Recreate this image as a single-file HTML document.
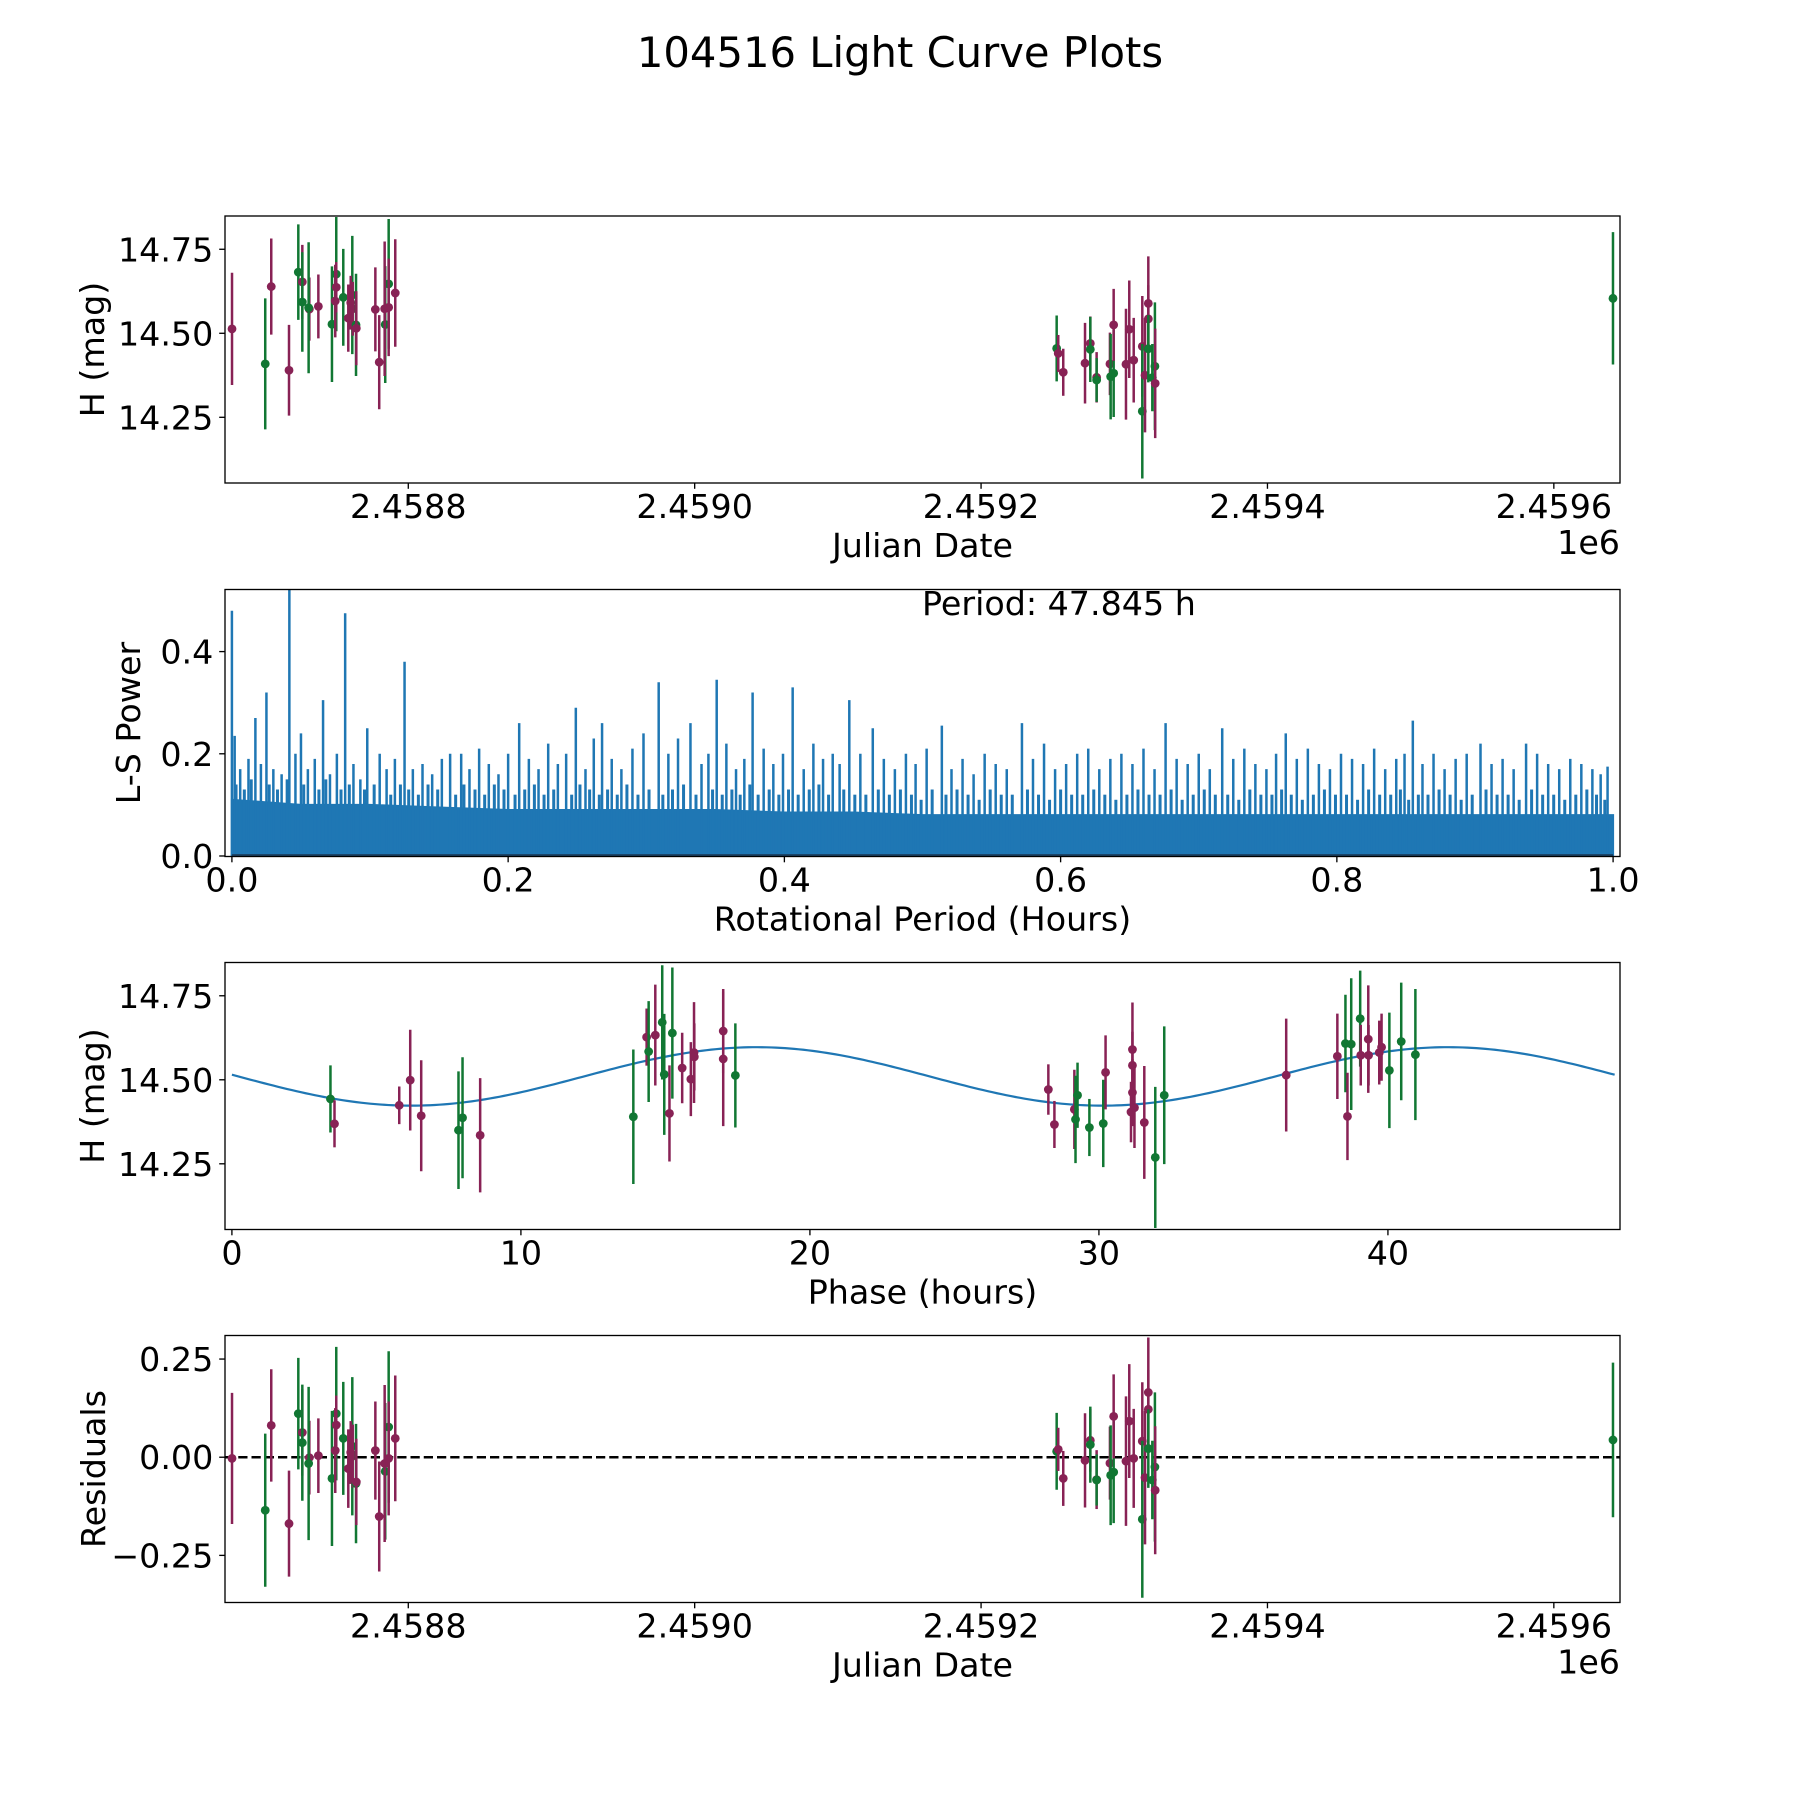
<!DOCTYPE html>
<html><head><meta charset="utf-8">
<style>
html,body{margin:0;padding:0;background:#fff;}
svg{display:block;font-family:"DejaVu Sans","Liberation Sans",sans-serif;}
</style></head>
<body>
<svg id="fig" width="1800" height="1800" viewBox="0 0 1800 1800" xmlns="http://www.w3.org/2000/svg">
<rect x="0" y="0" width="1800" height="1800" fill="#fff"/>
<text x="900" y="67" font-size="41.7" text-anchor="middle">104516 Light Curve Plots</text>
</svg>
<script>
// ---- Light curve data (JD - 2458800, magnitude, error, band) ----
const jdOffset = [-123.1,-99.9,-95.7,-83.3,-76.8,-74.0,-74.0,-69.1,-69.6,-62.8,-53.3,-50.3,-50.3,-51.0,-45.4,-39.1,-40.2,-38.8,-41.9,-36.5,-36.3,-23.0,-20.3,-16.1,-13.7,-16.5,-13.7,-9.1,
 452.8,453.9,457.4,472.6,476.3,476.3,480.7,480.7,490.0,490.5,492.6,492.6,501.2,503.5,506.6,512.6,512.6,514.5,516.8,516.8,516.8,521.4,519.6,521.6,841.3];
const magValues = [14.513,14.409,14.639,14.390,14.682,14.653,14.593,14.572,14.576,14.580,14.527,14.676,14.637,14.596,14.607,14.614,14.591,14.573,14.545,14.525,14.515,14.571,14.414,14.526,14.647,14.573,14.577,14.620,
 14.455,14.440,14.384,14.411,14.470,14.452,14.369,14.361,14.409,14.371,14.381,14.525,14.408,14.512,14.420,14.461,14.268,14.375,14.589,14.543,14.454,14.402,14.368,14.351,14.604];
const magErrors = [0.167,0.195,0.143,0.135,0.142,0.11,0.148,0.094,0.195,0.095,0.172,0.17,0.075,0.108,0.144,0.176,0.08,0.08,0.10,0.152,0.11,0.125,0.14,0.174,0.193,0.2,0.145,0.16,
 0.098,0.055,0.07,0.12,0.08,0.097,0.075,0.065,0.093,0.127,0.13,0.107,0.165,0.145,0.126,0.15,0.20,0.17,0.14,0.10,0.10,0.19,0.10,0.163,0.197];
const bands = ["P","G","P","P","G","P","G","P","G","P","G","G","P","P","G","G","P","P","P","G","P","P","P","G","G","P","P","P",
 "G","P","P","P","P","G","P","G","P","G","G","P","P","P","P","P","G","P","P","P","G","G","G","P","G"];
const residuals = [-0.003,-0.135,0.081,-0.169,0.111,0.063,0.037,-0.001,-0.016,0.004,-0.054,0.111,0.082,0.017,0.048,0.028,0.012,0.003,-0.029,-0.067,-0.063,0.017,-0.151,-0.036,0.077,-0.016,-0.003,0.048,
 0.015,0.020,-0.054,-0.008,0.043,0.032,-0.057,-0.058,-0.015,-0.046,-0.038,0.104,-0.010,0.092,-0.003,0.041,-0.158,-0.052,0.165,0.122,0.022,-0.025,-0.058,-0.084,0.044];
// ---- Phase-folded data ----
const phaseHours = [3.41,3.55,5.79,6.17,6.55,7.84,7.98,8.59,13.89,14.35,14.42,14.65,14.89,14.96,15.24,15.14,15.58,15.88,15.99,16.0,17.0,17.0,17.42,
 28.25,28.46,29.15,29.19,29.26,29.67,30.15,30.23,31.16,31.16,31.16,31.11,31.23,31.57,31.95,32.26,36.48,38.25,38.53,38.6,38.73,39.04,39.06,39.32,39.33,39.70,39.78,40.05,40.46,40.95];
const phaseMag = [14.443,14.369,14.424,14.499,14.393,14.350,14.387,14.335,14.390,14.627,14.584,14.633,14.671,14.516,14.639,14.400,14.535,14.502,14.581,14.568,14.645,14.562,14.513,
 14.471,14.367,14.412,14.382,14.454,14.358,14.370,14.522,14.590,14.543,14.462,14.404,14.417,14.373,14.269,14.454,14.514,14.570,14.608,14.391,14.606,14.682,14.573,14.621,14.573,14.581,14.597,14.528,14.614,14.575];
const phaseErr = [0.10,0.07,0.056,0.15,0.165,0.175,0.18,0.17,0.2,0.085,0.15,0.15,0.17,0.18,0.195,0.143,0.105,0.11,0.15,0.1,0.125,0.2,0.155,
 0.075,0.07,0.118,0.13,0.097,0.085,0.13,0.11,0.14,0.1,0.1,0.09,0.12,0.168,0.21,0.205,0.168,0.127,0.145,0.13,0.196,0.143,0.09,0.16,0.09,0.095,0.1,0.172,0.175,0.195];
const phaseBand = ["G","P","P","P","P","G","G","P","G","P","G","P","G","G","G","P","P","P","P","P","P","P","G",
 "P","P","P","G","G","G","G","P","P","P","P","P","P","P","G","G","P","P","G","P","G","G","P","P","P","P","P","G","G","G"];
// model: mean, amplitude, zero-phase (h), half-period (h), period (h)
const modelParams = [14.51, 0.087, 6.2, 23.9225, 47.845];
// ---- Periodogram (period hours, power) ----
const lsBasePeriod = [0,0.05,0.1,0.15,0.2,0.25,0.3,0.35,0.4,0.45,0.5,0.55,0.6,0.65,0.7,0.75,0.8,0.85,0.9,0.95,1.0];
const lsBasePower = [0.11,0.10,0.10,0.095,0.09,0.09,0.09,0.09,0.085,0.085,0.08,0.08,0.08,0.08,0.08,0.08,0.08,0.08,0.08,0.08,0.08];
const lsPeakPeriod = [0.0,0.002,0.017,0.025,0.0416,0.05,0.066,0.082,0.098,0.107,0.125,0.166,0.208,0.249,0.268,0.298,0.309,0.332,0.351,0.377,0.406,0.447,0.464,0.514,0.572,0.676,0.717,0.763,0.855,0.904,0.937,0.996];
const lsPeakPower = [0.48,0.235,0.27,0.32,0.55,0.24,0.305,0.475,0.25,0.2,0.38,0.2,0.26,0.29,0.26,0.24,0.34,0.26,0.345,0.32,0.33,0.305,0.25,0.255,0.26,0.26,0.25,0.24,0.265,0.22,0.22,0.175];
const lsMinorPeriod = [0.006,0.012,0.021,0.030,0.036,0.046,0.055,0.060,0.071,0.076,0.088,0.093,0.112,0.118,0.131,0.138,0.145,0.152,0.158,0.172,0.179,0.186,0.193,0.200,0.215,0.222,0.229,0.236,0.242,0.256,0.262,0.275,0.282,0.290,0.316,0.323,0.340,0.345,0.358,0.365,0.371,0.385,0.392,0.399,0.414,0.421,0.428,0.435,0.440,0.455,0.472,0.480,0.488,0.495,0.503,0.521,0.529,0.537,0.545,0.553,0.561,0.580,0.588,0.596,0.604,0.612,0.620,0.628,0.636,0.644,0.652,0.660,0.668,0.684,0.692,0.700,0.708,0.725,0.733,0.741,0.749,0.756,0.771,0.779,0.787,0.795,0.803,0.811,0.819,0.827,0.835,0.843,0.849,0.862,0.870,0.878,0.886,0.894,0.912,0.920,0.928,0.945,0.953,0.961,0.969,0.977,0.985,0.991];
const lsMinorPower = [0.17,0.19,0.18,0.17,0.16,0.2,0.17,0.19,0.16,0.2,0.18,0.15,0.17,0.19,0.17,0.18,0.16,0.19,0.2,0.17,0.21,0.18,0.16,0.2,0.19,0.17,0.22,0.18,0.2,0.17,0.23,0.19,0.17,0.21,0.2,0.23,0.18,0.2,0.22,0.17,0.19,0.21,0.18,0.2,0.17,0.22,0.19,0.2,0.18,0.2,0.19,0.17,0.2,0.18,0.21,0.17,0.19,0.16,0.2,0.18,0.17,0.19,0.22,0.17,0.18,0.2,0.21,0.17,0.19,0.2,0.18,0.21,0.17,0.19,0.18,0.2,0.17,0.19,0.21,0.18,0.17,0.2,0.19,0.21,0.18,0.17,0.2,0.19,0.18,0.21,0.17,0.19,0.2,0.18,0.2,0.17,0.19,0.2,0.18,0.19,0.17,0.2,0.18,0.17,0.19,0.18,0.17,0.16];
// mid-level texture spikes above the dense band
const lsTexturePeriod = [0.003,0.009,0.014,0.027,0.033,0.040,0.052,0.063,0.068,0.079,0.085,0.096,0.103,0.115,0.122,0.128,0.135,0.142,0.149,0.162,0.168,0.176,0.183,0.190,0.197,0.205,0.212,0.219,0.226,0.233,0.246,0.252,0.259,0.266,0.272,0.279,0.286,0.294,0.302,0.312,0.319,0.327,0.336,0.348,0.355,0.362,0.368,0.375,0.381,0.389,0.396,0.403,0.410,0.418,0.425,0.432,0.443,0.451,0.459,0.468,0.476,0.484,0.492,0.499,0.507,0.517,0.525,0.533,0.541,0.549,0.557,0.565,0.576,0.584,0.592,0.600,0.608,0.616,0.624,0.632,0.640,0.648,0.656,0.664,0.672,0.680,0.688,0.696,0.704,0.712,0.721,0.729,0.737,0.745,0.753,0.760,0.767,0.775,0.783,0.791,0.799,0.807,0.815,0.823,0.831,0.839,0.846,0.852,0.859,0.866,0.874,0.882,0.890,0.898,0.908,0.916,0.924,0.932,0.941,0.949,0.957,0.965,0.973,0.981,0.988,0.994];
const lsTexturePower = [0.14,0.13,0.15,0.14,0.13,0.15,0.14,0.13,0.15,0.13,0.14,0.13,0.14,0.12,0.14,0.13,0.12,0.14,0.13,0.12,0.14,0.13,0.12,0.14,0.13,0.12,0.13,0.14,0.12,0.13,0.12,0.14,0.13,0.12,0.13,0.12,0.14,0.12,0.13,0.12,0.13,0.14,0.12,0.13,0.12,0.13,0.12,0.14,0.12,0.13,0.12,0.13,0.12,0.13,0.14,0.12,0.13,0.12,0.12,0.13,0.12,0.13,0.12,0.11,0.13,0.12,0.13,0.12,0.11,0.13,0.12,0.12,0.13,0.12,0.11,0.13,0.12,0.12,0.13,0.12,0.11,0.12,0.13,0.12,0.12,0.13,0.11,0.12,0.13,0.12,0.12,0.11,0.13,0.12,0.12,0.13,0.12,0.11,0.12,0.13,0.12,0.12,0.11,0.13,0.12,0.12,0.13,0.11,0.12,0.12,0.13,0.12,0.11,0.12,0.13,0.12,0.12,0.11,0.13,0.12,0.12,0.11,0.12,0.13,0.12,0.11];

const topTickDays = [0,200,400,600,800];
const topTickLabels = ["2.4588","2.4590","2.4592","2.4594","2.4596"];
const magTicks = [14.25,14.50,14.75];
const magTickLabels = ["14.25","14.50","14.75"];
const lsXTicks = [0,0.2,0.4,0.6,0.8,1.0];
const lsXTickLabels = ["0.0","0.2","0.4","0.6","0.8","1.0"];
const lsYTicks = [0,0.2,0.4];
const lsYTickLabels = ["0.0","0.2","0.4"];
const phaseTicks = [0,10,20,30,40];
const phaseTickLabels = ["0","10","20","30","40"];
const resTicks = [-0.25,0,0.25];
const resTickLabels = ["\u22120.25","0.00","0.25"];

const NS = "http://www.w3.org/2000/svg";
const svg = document.getElementById('fig');
const PURPLE = "#882255", GREEN = "#117733", BLUE = "#1f77b4";
const L = 225, R = 1620, H = 267;
const TOPS = [216, 589.5, 962.5, 1335.5];
function mk(tag, attrs, parent) {
  const e = document.createElementNS(NS, tag);
  for (const k in attrs) e.setAttribute(k, attrs[k]);
  (parent || svg).appendChild(e);
  return e;
}
function scale(d0, d1, p0, p1) { return v => p0 + (v - d0) / (d1 - d0) * (p1 - p0); }

function makeAxes(idx, xlim, ylim, name) {
  const top = TOPS[idx], bot = top + H;
  const g = mk('g', {});
  
  
  const sx = scale(xlim[0], xlim[1], L, R);
  const sy = scale(ylim[0], ylim[1], bot, top);
  const clipId = 'clip' + idx;
  const cp = mk('clipPath', {id: clipId}, g);
  mk('rect', {x: L, y: top, width: R - L, height: H}, cp);
  const plot = mk('g', {'clip-path': 'url(#' + clipId + ')'}, g);
  
  
  return {g, plot, sx, sy, top, bot};
}
function frame(ax, name) {
  const r = mk('rect', {x: L, y: ax.top, width: R - L, height: H, fill: 'none', stroke: '#000', 'stroke-width': 1.33}, ax.g);
  
  
}
function xTicks(ax, vals, labels, name) {
  vals.forEach((v, i) => {
    const x = ax.sx(v);
    const t = mk('line', {x1: x, x2: x, y1: ax.bot, y2: ax.bot + 5.8, stroke: '#000', 'stroke-width': 1.33}, ax.g);
    
    
    const tx = mk('text', {x: x, y: ax.bot + 35, 'font-size': 33.3, 'text-anchor': 'middle'}, ax.g);
    tx.textContent = labels[i];
    
    
  });
}
function yTicks(ax, vals, labels, name) {
  vals.forEach((v, i) => {
    const y = ax.sy(v);
    const t = mk('line', {x1: L - 5.8, x2: L, y1: y, y2: y, stroke: '#000', 'stroke-width': 1.33}, ax.g);
    
    
    const tx = mk('text', {x: L - 11.7, y: y + 12, 'font-size': 33.3, 'text-anchor': 'end'}, ax.g);
    tx.textContent = labels[i];
    
    
  });
}
function xLabel(ax, text, name) {
  const t = mk('text', {x: (L + R) / 2, y: ax.bot + 74, 'font-size': 33.3, 'text-anchor': 'middle'}, ax.g);
  t.textContent = text;
  
  
}
function yLabel(ax, text, bx, name) {
  const cy = ax.top + H / 2;
  const t = mk('text', {x: bx, y: cy, 'font-size': 33.3, 'text-anchor': 'middle', transform: 'rotate(-90 ' + bx + ' ' + cy + ')'}, ax.g);
  t.textContent = text;
  
  
}
function offsetLabel(ax, name) {
  const t = mk('text', {x: R, y: ax.bot + 71, 'font-size': 33.3, 'text-anchor': 'end'}, ax.g);
  t.textContent = '1e6';
  
  
}
function errPoint(ax, xv, yv, ev, band, name) {
  const col = band === 'P' ? PURPLE : GREEN;
  const x = ax.sx(xv);
  const bar = mk('line', {x1: x, x2: x, y1: ax.sy(yv - ev), y2: ax.sy(yv + ev), stroke: col, 'stroke-width': 2.5}, ax.plot);
  
  
  const c = mk('circle', {cx: x, cy: ax.sy(yv), r: 4.4, fill: col}, ax.plot);
  
  
}

// ---- Panel 1: light curve ----
const ax1 = makeAxes(0, [-128.0, 846.2], [14.0545, 14.849], 'light-curve-panel');
jdOffset.forEach((d, i) => errPoint(ax1, d, magValues[i], magErrors[i], bands[i], 'light-curve'));
frame(ax1, 'light-curve');
xTicks(ax1, topTickDays, topTickLabels, 'light-curve');
yTicks(ax1, magTicks, magTickLabels, 'light-curve');
xLabel(ax1, 'Julian Date', 'light-curve-x-axis-title');
yLabel(ax1, 'H (mag)', 104, 'light-curve-y-axis-title');
offsetLabel(ax1, 'light-curve-x-offset-label');

// ---- Panel 2: periodogram ----
const ax2 = makeAxes(1, [-0.005, 1.005], [-0.001, 0.5215], 'periodogram-panel');
{
  let d = 'M' + ax2.sx(lsBasePeriod[0]) + ' ' + ax2.sy(0);
  lsBasePeriod.forEach((p, i) => { d += ' L' + ax2.sx(p) + ' ' + ax2.sy(lsBasePower[i]); });
  d += ' L' + ax2.sx(lsBasePeriod[lsBasePeriod.length - 1]) + ' ' + ax2.sy(0) + ' Z';
  const f = mk('path', {d: d, fill: BLUE, stroke: BLUE, 'stroke-width': 2}, ax2.plot);
  
  
  lsTexturePeriod.forEach((p, i) => {
    const x = ax2.sx(p);
    const l = mk('line', {x1: x, x2: x, y1: ax2.sy(0), y2: ax2.sy(lsTexturePower[i]), stroke: BLUE, 'stroke-width': 3}, ax2.plot);
    
    
  });
  lsMinorPeriod.forEach((p, i) => {
    const x = ax2.sx(p);
    const l = mk('line', {x1: x, x2: x, y1: ax2.sy(0), y2: ax2.sy(lsMinorPower[i]), stroke: BLUE, 'stroke-width': 2.5}, ax2.plot);
    
    
  });
  lsPeakPeriod.forEach((p, i) => {
    const x = ax2.sx(p);
    const l = mk('line', {x1: x, x2: x, y1: ax2.sy(0), y2: ax2.sy(lsPeakPower[i]), stroke: BLUE, 'stroke-width': 2.5}, ax2.plot);
    
    
  });
  const bl = mk('line', {x1: ax2.sx(0), x2: ax2.sx(1), y1: ax2.sy(0) - 1, y2: ax2.sy(0) - 1, stroke: '#1a3550', 'stroke-width': 1.5}, ax2.plot);
  
  
}
frame(ax2, 'periodogram');
xTicks(ax2, lsXTicks, lsXTickLabels, 'periodogram');
yTicks(ax2, lsYTicks, lsYTickLabels, 'periodogram');
xLabel(ax2, 'Rotational Period (Hours)', 'periodogram-x-axis-title');
yLabel(ax2, 'L-S Power', 140, 'periodogram-y-axis-title');
{
  const t = mk('text', {x: 922, y: 615, 'font-size': 33.3, 'text-anchor': 'start'}, ax2.g);
  t.textContent = 'Period: ' + modelParams[4].toFixed(3) + ' h';
  
  
}

// ---- Panel 3: phase-folded ----
const ax3 = makeAxes(2, [-0.239, 48.03], [14.0545, 14.849], 'phase-panel');
{
  let d = '';
  const n = 300;
  for (let k = 0; k <= n; k++) {
    const ph = modelParams[4] * k / n;
    const v = modelParams[0] - modelParams[1] * Math.cos(2 * Math.PI * (ph - modelParams[2]) / modelParams[3]);
    d += (k ? ' L' : 'M') + ax3.sx(ph).toFixed(2) + ' ' + ax3.sy(v).toFixed(2);
  }
  const c = mk('path', {d: d, fill: 'none', stroke: BLUE, 'stroke-width': 2.2}, ax3.plot);
  
  
}
phaseHours.forEach((p, i) => errPoint(ax3, p, phaseMag[i], phaseErr[i], phaseBand[i], 'phase'));
frame(ax3, 'phase');
xTicks(ax3, phaseTicks, phaseTickLabels, 'phase');
yTicks(ax3, magTicks, magTickLabels, 'phase');
xLabel(ax3, 'Phase (hours)', 'phase-x-axis-title');
yLabel(ax3, 'H (mag)', 104, 'phase-y-axis-title');

// ---- Panel 4: residuals ----
const ax4 = makeAxes(3, [-128.0, 846.2], [-0.37, 0.31], 'residuals-panel');
{
  const z = mk('line', {x1: L, x2: R, y1: ax4.sy(0), y2: ax4.sy(0), stroke: '#000', 'stroke-width': 2.5, 'stroke-dasharray': '9.25 4'}, ax4.plot);
  
  
}
jdOffset.forEach((d, i) => errPoint(ax4, d, residuals[i], magErrors[i], bands[i], 'residual'));
frame(ax4, 'residuals');
xTicks(ax4, topTickDays, topTickLabels, 'residuals');
yTicks(ax4, resTicks, resTickLabels, 'residuals');
xLabel(ax4, 'Julian Date', 'residuals-x-axis-title');
yLabel(ax4, 'Residuals', 105, 'residuals-y-axis-title');
offsetLabel(ax4, 'residuals-x-offset-label');
</script>
</body></html>
